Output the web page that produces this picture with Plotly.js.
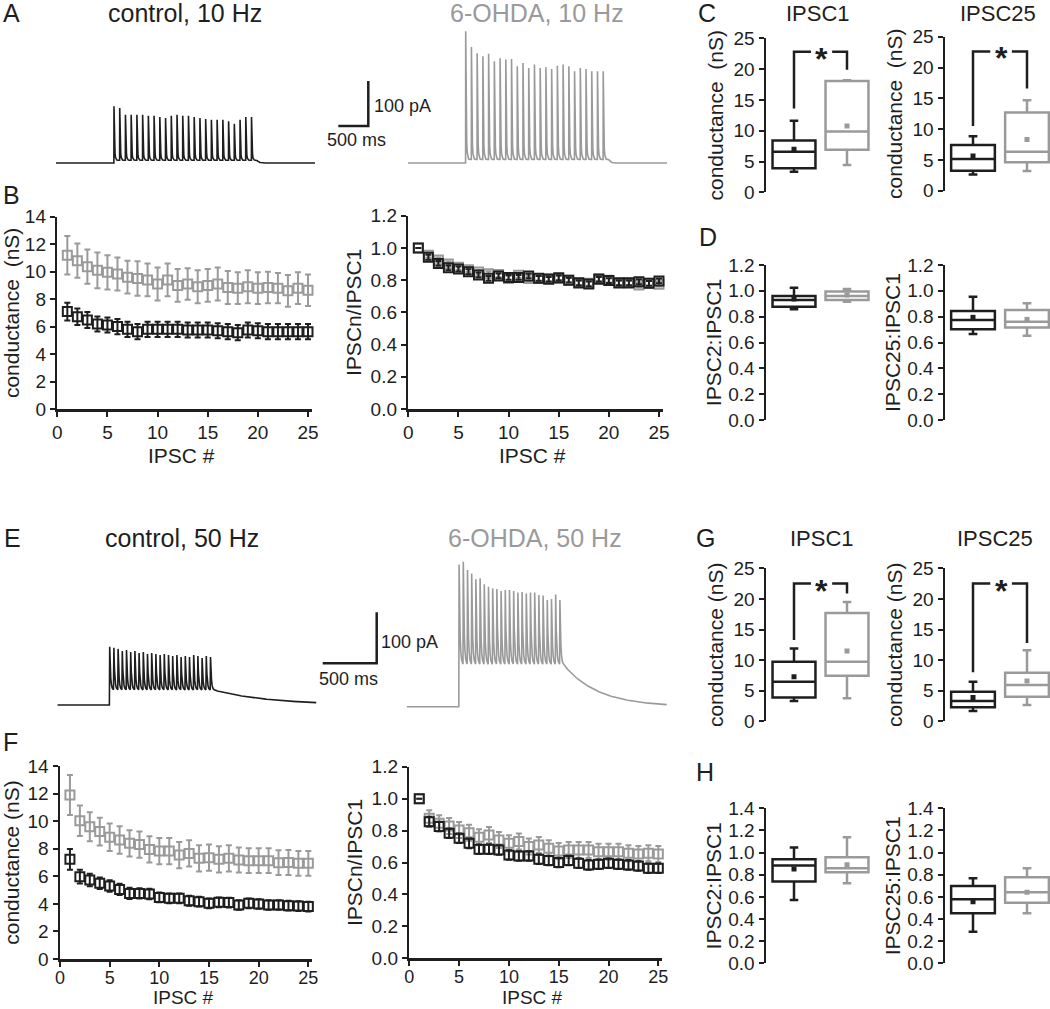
<!DOCTYPE html>
<html><head><meta charset="utf-8">
<script src="https://cdn.plot.ly/plotly-3.0.1.min.js"></script>
<style>html,body{margin:0;padding:0;background:#fff}#chart{width:1050px;height:1009px}</style>
</head><body><div id="chart"></div>
<script>
// ---------------- DATA ----------------
const ipscNumber = [1,2,3,4,5,6,7,8,9,10,11,12,13,14,15,16,17,18,19,20,21,22,23,24,25];

// A / E example traces: peak amplitudes (pA) of each IPSC in the train
const peaksCtrl10 = [126,122,107,107,107,107,105,105,102,100,105,107,105,105,102,100,98,96,96,96,93,87,96,102,102];
const peaksOhda10 = [293,258,244,237,243,226,233,230,231,215,222,211,219,211,213,209,216,219,215,204,211,209,204,204,204];
const peaksCtrl50 = [114,112,110,106,108,104,106,102,104,100,102,100,98,100,98,96,98,94,96,94,98,96,92,96,94];
const peaksOhda50 = [279,284,268,261,250,252,240,235,232,231,227,229,229,227,224,225,222,224,224,219,218,209,211,220,209];
const residual10 = [6, 8];      // ctrl, 6-OHDA (pA) level between pulses
const residual50 = [29, 82];    // ctrl, 6-OHDA (pA) trough level during train
const scaleBar = [500, 100];    // ms, pA

// B: 10 Hz conductance (nS), mean and SEM
const bCtrlMean = [7.09,6.72,6.48,6.19,6.12,6.0,5.8,5.63,5.8,5.8,5.8,5.8,5.75,5.75,5.75,5.7,5.63,5.56,5.75,5.7,5.63,5.63,5.63,5.63,5.63];
const bCtrlSem  = [0.65,0.6,0.58,0.55,0.55,0.55,0.55,0.55,0.55,0.55,0.55,0.55,0.55,0.55,0.55,0.55,0.55,0.55,0.55,0.55,0.55,0.55,0.55,0.55,0.55];
const bOhdaMean = [11.2,10.8,10.36,10.1,9.95,9.83,9.6,9.5,9.4,9.1,9.4,9.0,9.1,8.9,9.0,9.1,8.85,8.8,8.9,8.8,8.85,8.8,8.6,8.8,8.65];
const bOhdaSem  = [1.4,1.25,1.25,1.3,1.25,1.2,1.2,1.25,1.2,1.2,1.2,1.2,1.15,1.2,1.2,1.2,1.2,1.15,1.2,1.15,1.15,1.1,1.15,1.15,1.15];
// B: 10 Hz normalised IPSCn/IPSC1
const bCtrlNorm = [1.0,0.942,0.904,0.877,0.869,0.852,0.832,0.811,0.826,0.817,0.817,0.826,0.811,0.805,0.815,0.80,0.784,0.776,0.805,0.797,0.784,0.784,0.79,0.78,0.795];
const bCtrlNormSem = [0,0.015,0.015,0.015,0.015,0.015,0.015,0.015,0.015,0.015,0.015,0.015,0.015,0.015,0.015,0.015,0.015,0.015,0.015,0.015,0.015,0.015,0.015,0.015,0.015];
const bOhdaNorm = [1.0,0.955,0.925,0.9,0.88,0.865,0.85,0.84,0.835,0.81,0.83,0.81,0.81,0.81,0.81,0.80,0.78,0.78,0.81,0.80,0.78,0.78,0.77,0.78,0.775];
const bOhdaNormSem = [0,0.015,0.015,0.015,0.015,0.015,0.015,0.015,0.015,0.015,0.015,0.015,0.015,0.015,0.015,0.015,0.015,0.015,0.015,0.015,0.015,0.015,0.015,0.015,0.015];

// F: 50 Hz conductance (nS)
const fCtrlMean = [7.23,5.97,5.73,5.49,5.3,5.05,4.76,4.76,4.71,4.47,4.4,4.4,4.23,4.16,4.04,4.11,4.09,3.92,4.04,3.99,3.92,3.92,3.87,3.84,3.8];
const fCtrlSem  = [0.75,0.5,0.45,0.42,0.42,0.4,0.4,0.38,0.38,0.36,0.36,0.36,0.36,0.35,0.35,0.35,0.35,0.35,0.35,0.35,0.35,0.35,0.35,0.35,0.35];
const fOhdaMean = [11.9,10.03,9.6,9.24,8.83,8.63,8.39,8.3,7.95,7.83,7.83,7.54,7.66,7.3,7.35,7.23,7.3,7.18,7.13,7.13,7.13,6.99,7.0,6.94,6.94];
const fOhdaSem  = [1.45,1.1,1.05,1.0,1.0,1.0,0.95,0.95,0.95,0.95,0.95,0.95,0.95,0.95,0.95,0.95,0.95,0.9,0.9,0.9,0.9,0.9,0.9,0.9,0.9];
// F: 50 Hz normalised
const fCtrlNorm = [1.0,0.856,0.825,0.783,0.752,0.72,0.683,0.683,0.678,0.647,0.641,0.641,0.62,0.612,0.6,0.612,0.595,0.585,0.589,0.595,0.589,0.585,0.578,0.564,0.564];
const fCtrlNormSem = [0,0.03,0.03,0.03,0.03,0.03,0.03,0.03,0.03,0.03,0.03,0.03,0.03,0.03,0.03,0.03,0.03,0.03,0.03,0.03,0.03,0.03,0.03,0.03,0.03];
const fOhdaNorm = [1.0,0.877,0.846,0.829,0.804,0.787,0.758,0.772,0.741,0.72,0.731,0.70,0.71,0.689,0.672,0.678,0.678,0.678,0.668,0.668,0.668,0.658,0.653,0.658,0.653];
const fOhdaNormSem = [0,0.05,0.05,0.05,0.05,0.05,0.05,0.05,0.05,0.05,0.05,0.05,0.05,0.05,0.05,0.05,0.05,0.05,0.05,0.05,0.05,0.05,0.05,0.05,0.05];

// Box stats: [lower whisker, Q1, median, Q3, upper whisker, mean]
const cIpsc1Ctrl  = [3.35,3.9,6.6,8.4,11.6,6.98];
const cIpsc1Ohda  = [4.45,6.9,9.85,18.05,18.2,10.75];
const cIpsc25Ctrl = [2.65,3.25,5.14,7.4,8.85,5.65];
const cIpsc25Ohda = [3.2,4.6,6.33,12.7,14.7,8.33];
const dR2Ctrl  = [0.857,0.877,0.929,0.96,1.024,0.937];
const dR2Ohda  = [0.916,0.929,0.96,0.994,1.014,0.968];
const dR25Ctrl = [0.666,0.702,0.774,0.844,0.955,0.795];
const dR25Ohda = [0.653,0.717,0.761,0.852,0.903,0.779];
const gIpsc1Ctrl  = [3.3,3.9,6.47,9.73,11.9,7.28];
const gIpsc1Ohda  = [3.75,7.45,9.73,17.7,19.5,11.5];
const gIpsc25Ctrl = [1.7,2.3,3.3,4.84,6.47,3.9];
const gIpsc25Ohda = [2.66,4.02,5.92,7.93,11.6,6.58];
const hR2Ctrl  = [0.572,0.738,0.883,0.94,1.045,0.852];
const hR2Ohda  = [0.723,0.822,0.858,0.958,1.139,0.889];
const hR25Ctrl = [0.286,0.452,0.578,0.699,0.768,0.557];
const hR25Ohda = [0.452,0.548,0.642,0.777,0.858,0.642];
// significance brackets: [left leg bottom, top, right leg bottom] (nS)
const cBracket1 = [13.6,22.8,19.9];
const cBracket25 = [10.5,22.6,16.6];
const gBracket1 = [13.3,22.5,20.9];
const gBracket25 = [8.0,22.5,12.8];

// ---------------- BUILD ----------------
const W=1050, H=1009;
const FONT='Liberation Sans, Arial, Helvetica, sans-serif';
const BLACK='#1e1e1e', GRAY='#9a9a9a';
const xd=(a,b)=>[a/W,b/W];
const yd=(t,b)=>[1-b/H,1-t/H];
const layout={width:W,height:H,margin:{l:0,r:0,t:0,b:0},paper_bgcolor:'#fff',plot_bgcolor:'rgba(0,0,0,0)',
  showlegend:false,font:{family:FONT,color:BLACK},boxmode:'overlay',annotations:[],hovermode:false};
const data=[];
let n=0;
function axes(xc,yc){n++;const s=n===1?'':String(n);
  layout['xaxis'+s]=Object.assign({anchor:'y'+s,fixedrange:true,automargin:false},xc);
  layout['yaxis'+s]=Object.assign({anchor:'x'+s,fixedrange:true,automargin:false},yc);
  return {x:'x'+s,y:'y'+s};}
const AX={showline:true,linewidth:2.5,linecolor:BLACK,ticks:'outside',ticklen:5,tickwidth:2,tickcolor:BLACK,
  showgrid:false,zeroline:false,tickfont:{size:19,color:BLACK,family:FONT}};
const HID={visible:false,showgrid:false,zeroline:false};
function ann(text,px,py,size,color,extra){layout.annotations.push(Object.assign({text,x:px/W,y:1-py/H,xref:'paper',yref:'paper',
  showarrow:false,xanchor:'center',yanchor:'middle',font:{size,color:color||BLACK,family:FONT}},extra||{}));}

// ---- example traces ----
function waveform(t0,dt,peaks,resid,rise,tauF,tauS,tEnd){
  const xs=[0,t0],ys=[0,0];
  const offs=[0.5,1,2,3,5,8,12,18,26,36,50,70,95];
  peaks.forEach((pk,i)=>{
    const ti=t0+i*dt;
    xs.push(ti+rise);ys.push(pk);
    offs.filter(s=>s<dt-rise).forEach(s=>{xs.push(ti+rise+s);ys.push(resid+(pk-resid)*Math.exp(-s/tauF));});
    xs.push(ti+dt);ys.push(resid+(pk-resid)*Math.exp(-(dt-rise)/tauF));
  });
  const tl=t0+peaks.length*dt;
  for(let t=tl+5;t<=tEnd;t+=5){xs.push(t);ys.push(resid*Math.exp(-(t-tl)/tauS));}
  return {xs,ys};
}
function tracePanel(x0,x1,yt,yb,base,pxMs,pxPA,w,color){
  const a=axes(Object.assign({},HID,{domain:xd(x0,x1),range:[0,(x1-x0)/pxMs]}),
               Object.assign({},HID,{domain:yd(yt,yb),range:[-(yb-base)/pxPA,(base-yt)/pxPA]}));
  data.push({type:'scatter',mode:'lines',x:w.xs,y:w.ys,line:{color,width:1.6},xaxis:a.x,yaxis:a.y,hoverinfo:'skip'});
}
function scaleBarPanel(x0,x1,yt,yb,cx,cy,pxMs,pxPA){
  const a=axes(Object.assign({},HID,{domain:xd(x0,x1),range:[-(cx-x0)/pxMs,(x1-cx)/pxMs]}),
               Object.assign({},HID,{domain:yd(yt,yb),range:[-(yb-cy)/pxPA,(cy-yt)/pxPA]}));
  data.push({type:'scatter',mode:'lines',x:[-scaleBar[0],0,0],y:[0,0,scaleBar[1]],line:{color:BLACK,width:2.5},xaxis:a.x,yaxis:a.y,hoverinfo:'skip'});
}
// 10 Hz (A)
const px10=0.0573, pa10=0.45;
tracePanel(56,318,20,180,163,px10,pa10,waveform(1010,100,peaksCtrl10,residual10[0],2,9,30,4520),BLACK);
tracePanel(408,670,20,180,163,px10,pa10,waveform(1005,100,peaksOhda10,residual10[1],2,9,30,4520),GRAY);
scaleBarPanel(320,375,70,135,368.3,126,0.06,pa10);
// 50 Hz (E)
const px50=0.21, pa50=0.51;
tracePanel(57.3,320,550,720,705,px50,pa50,waveform(248,20,peaksCtrl50,residual50[0],1.5,4,265,1235),BLACK);
tracePanel(406.7,670,550,720,706.7,px50,pa50,waveform(248,20,peaksOhda50,residual50[1],1.5,4,163,1238),GRAY);
scaleBarPanel(315,382,600,670,376.7,663.3,0.108,pa50);

// ---- scatter panels ----
function scatterPanel(x0,x1,yt,yb,ymax,dtick,fmt,ytitle,series,titleY,low){
  const a=axes(Object.assign({},AX,{domain:xd(x0,x1),range:[0,25.4],tickvals:[0,5,10,15,20,25],
      ticklabelstandoff:low?-4:0,tickfont:{size:low?18:19,color:BLACK,family:FONT}}),
    Object.assign({},AX,{domain:yd(yt,yb),range:[0,ymax],tick0:0,dtick,tickformat:fmt,
      title:{text:ytitle,font:{size:21,family:FONT,color:BLACK},standoff:3}}));
  series.forEach(([m,e,c])=>data.push({type:'scatter',mode:'markers',x:ipscNumber,y:m,
    error_y:{type:'data',array:e,visible:true,color:c,thickness:2,width:3},
    marker:{symbol:'square-open',size:9,color:c,line:{width:2,color:c}},cliponaxis:false,xaxis:a.x,yaxis:a.y,hoverinfo:'skip'}));
  ann('IPSC #',(x0+x1)/2-3,titleY,low?19:21);
}
scatterPanel(57.3,312,216.7,409,14,2,'d','conductance\u00a0 (nS)',[[bOhdaMean,bOhdaSem,GRAY],[bCtrlMean,bCtrlSem,BLACK]],456,false);
scatterPanel(408.3,663,215.7,409,1.2,0.2,'.1f','IPSCn/IPSC1',[[bOhdaNorm,bOhdaNormSem,GRAY],[bCtrlNorm,bCtrlNormSem,BLACK]],456,false);
scatterPanel(60,312.3,766,959,14,2,'d','conductance (nS)',[[fOhdaMean,fOhdaSem,GRAY],[fCtrlMean,fCtrlSem,BLACK]],997.5,true);
scatterPanel(409.3,662.3,766.7,958.3,1.2,0.2,'.1f','IPSCn/IPSC1',[[fOhdaNorm,fOhdaNormSem,GRAY],[fCtrlNorm,fCtrlNormSem,BLACK]],997.5,true);

// ---- box panels ----
function boxPanel(left,yt,yb,ymax,dtick,fmt,ytitle,ctrl,ohda,bracket){
  const x0=left?766:945, x1=left?876:1050, cpx=left?794:973, upx=left?53:54;
  const a=axes(Object.assign({},HID,{domain:xd(x0,x1),range:[-(cpx-x0)/upx,(x1-cpx)/upx]}),
    Object.assign({},AX,{domain:yd(yt,yb),range:[0,ymax],tick0:0,dtick,tickformat:fmt,
      title:{text:ytitle,font:{size:21,family:FONT,color:BLACK},standoff:bracket?4:1}}));
  [[0,ctrl,BLACK],[1,ohda,GRAY]].forEach(([x,s,c])=>{
    data.push({type:'box',x:[x],lowerfence:[s[0]],q1:[s[1]],median:[s[2]],q3:[s[3]],upperfence:[s[4]],
      width:0.81,whiskerwidth:0.2,line:{color:c,width:2.5},fillcolor:'rgba(0,0,0,0)',boxpoints:false,
      xaxis:a.x,yaxis:a.y,hoverinfo:'skip'});
    data.push({type:'scatter',mode:'markers',x:[x],y:[s[5]],marker:{symbol:'square',size:5,color:c},xaxis:a.x,yaxis:a.y,hoverinfo:'skip'});
  });
  if(bracket){
    data.push({type:'scatter',mode:'lines',x:[0,0,0.32,null,0.72,1,1],y:[bracket[0],bracket[1],bracket[1],null,bracket[1],bracket[1],bracket[2]],
      line:{color:BLACK,width:2.5},xaxis:a.x,yaxis:a.y,hoverinfo:'skip',cliponaxis:false,connectgaps:false});
    layout.annotations.push({text:'<b>*</b>',x:0.52,y:bracket[1],xref:a.x,yref:a.y,showarrow:false,yshift:-7,
      font:{size:32,color:BLACK,family:FONT}});
  }
}
boxPanel(true,38.3,192.3,25,5,'d','conductance\u00a0 (nS)',cIpsc1Ctrl,cIpsc1Ohda,cBracket1);
boxPanel(false,36.7,190.7,25,5,'d','conductance\u00a0 (nS)',cIpsc25Ctrl,cIpsc25Ohda,cBracket25);
boxPanel(true,265,420,1.2,0.2,'.1f','IPSC2:IPSC1',dR2Ctrl,dR2Ohda,null);
boxPanel(false,265,420,1.2,0.2,'.1f','IPSC25:IPSC1',dR25Ctrl,dR25Ohda,null);
boxPanel(true,568.3,721.3,25,5,'d','conductance (nS)',gIpsc1Ctrl,gIpsc1Ohda,gBracket1);
boxPanel(false,568.3,721.3,25,5,'d','conductance (nS)',gIpsc25Ctrl,gIpsc25Ohda,gBracket25);
boxPanel(true,808.3,963.3,1.4,0.2,'.1f','IPSC2:IPSC1',hR2Ctrl,hR2Ohda,null);
boxPanel(false,808.3,963.3,1.4,0.2,'.1f','IPSC25:IPSC1',hR25Ctrl,hR25Ohda,null);

// ---- text ----
ann('A',11,13,25); ann('B',11,195,25); ann('C',707,13,25); ann('D',708,237,25);
ann('E',12,538,25); ann('F',10,742,25); ann('G',705,538,25); ann('H',705,772,25);
ann('control, 10 Hz',185,13,25); ann('6-OHDA, 10 Hz',537,13,25,GRAY);
ann('control, 50 Hz',182,538,25); ann('6-OHDA, 50 Hz',535,538,25,GRAY);
ann('IPSC1',818,13,22); ann('IPSC25',998,13,22);
ann('IPSC1',822,538,22); ann('IPSC25',995,538,22);
ann('100 pA',372,106,18,BLACK,{xanchor:'left'}); ann('500 ms',356,140,18);
ann('100 pA',379,642,18,BLACK,{xanchor:'left'}); ann('500 ms',348,679,18);

Plotly.newPlot('chart',data,layout,{staticPlot:true,displayModeBar:false});
</script></body></html>
